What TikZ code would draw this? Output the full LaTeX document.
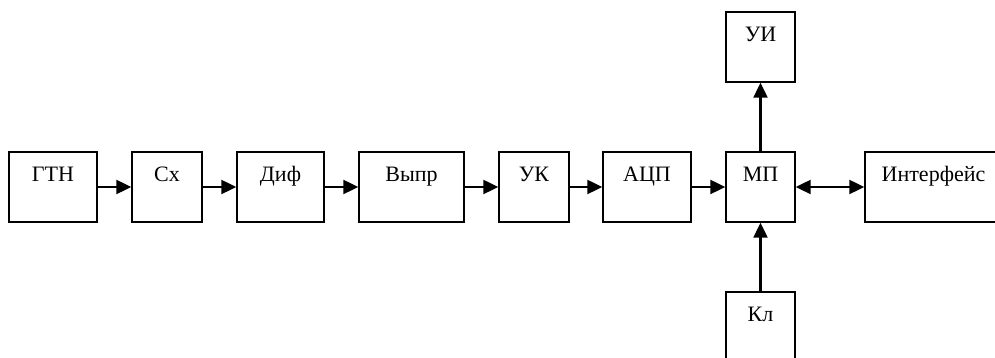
\documentclass[tikz,border=0pt]{standalone}
\usepackage{fontspec}
\setmainfont{Liberation Serif}
\usetikzlibrary{arrows.meta}
\begin{document}
\begin{tikzpicture}[x=1pt,y=1pt,
  blk/.style={draw=black, line width=1.4pt, rectangle, inner xsep=0pt, inner ysep=0pt,
    minimum height=70pt, text height=30pt, text depth=40pt, align=center,
    font=\fontsize{22}{25}\selectfont},
  arr/.style={line width=2.2pt, -{Triangle[length=15pt,width=14pt]}},
  barr/.style={line width=2.2pt, {Triangle[length=15pt,width=14pt]}-{Triangle[length=15pt,width=14pt]}}]
\useasboundingbox (0,0) rectangle (995,358);
\clip (0,0) rectangle (995,358);
\fill[white] (0,0) rectangle (995,358);
\node[blk, minimum width=88pt] (gtn) at (53,171) {ГТН};
\node[blk, minimum width=70pt] (cx) at (167,171) {Сх};
\node[blk, minimum width=87pt] (dif) at (280.5,171) {Диф};
\node[blk, minimum width=105pt] (vypr) at (411.5,171) {Выпр};
\node[blk, minimum width=70pt] (uk) at (534,171) {УК};
\node[blk, minimum width=88pt] (acp) at (647,171) {АЦП};
\node[blk, minimum width=69pt] (mp) at (760.5,171) {МП};
\node[blk, minimum width=137pt] (intf) at (933.5,171) {Интерфейс};
\node[blk, minimum width=69pt] (ui) at (760.5,311) {УИ};
\node[blk, minimum width=69pt] (kl) at (760.5,31) {Кл};
\draw[arr] (gtn.east) -- (cx.west);
\draw[arr] (cx.east) -- (dif.west);
\draw[arr] (dif.east) -- (vypr.west);
\draw[arr] (vypr.east) -- (uk.west);
\draw[arr] (uk.east) -- (acp.west);
\draw[arr] (acp.east) -- (mp.west);
\draw[barr] (mp.east) -- (intf.west);
\draw[arr] (mp.north) -- (ui.south);
\draw[arr] (kl.north) -- (mp.south);
\end{tikzpicture}
\end{document}
